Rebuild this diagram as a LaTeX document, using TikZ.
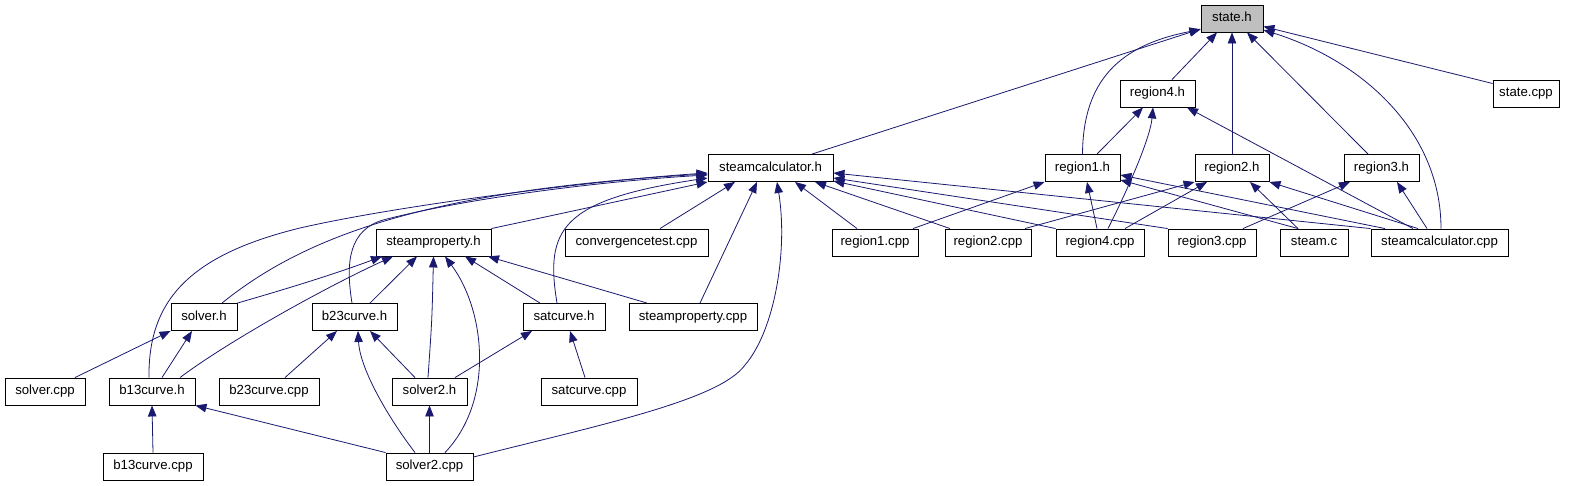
\documentclass[tikz,border=0pt]{standalone}
\usepackage{fontspec}
\setmainfont{Liberation Sans}
\usetikzlibrary{arrows.meta}
\definecolor{edgec}{HTML}{191970}
\definecolor{grayfill}{HTML}{BFBFBF}
\begin{document}
\begin{tikzpicture}[x=1pt,y=-1pt,
 box/.style={draw=black, line width=0.9pt, fill=white, inner sep=0pt, minimum height=27pt,
   text height=9.5pt, text depth=2.8pt, font=\fontsize{13.2}{15}\selectfont},
 dep/.style={draw=edgec, line width=0.8pt, -{Triangle[length=11pt,width=8.5pt]}}]
\useasboundingbox[fill=white] (0,0) rectangle (1573,485);
% row 0
\node[box, fill=grayfill, minimum width=62pt] (stateh) at (1232,18.5) {state.h};
% row 1
\node[box, minimum width=75pt] (region4h) at (1157.5,93.5) {region4.h};
\node[box, minimum width=66pt] (statecpp) at (1526,93.5) {state.cpp};
% row 2
\node[box, minimum width=125pt] (sch) at (770.5,168) {steamcalculator.h};
\node[box, minimum width=75pt] (region1h) at (1082.5,168) {region1.h};
\node[box, minimum width=74pt] (region2h) at (1232,168) {region2.h};
\node[box, minimum width=75pt] (region3h) at (1381.5,168) {region3.h};
% row 3
\node[box, minimum width=115pt] (steampropertyh) at (433.5,242.5) {steamproperty.h};
\node[box, minimum width=143pt] (convergencetestcpp) at (636.5,242.5) {convergencetest.cpp};
\node[box, minimum width=86pt] (region1cpp) at (875,242.5) {region1.cpp};
\node[box, minimum width=86pt] (region2cpp) at (988,242.5) {region2.cpp};
\node[box, minimum width=88pt] (region4cpp) at (1100,242.5) {region4.cpp};
\node[box, minimum width=88pt] (region3cpp) at (1212,242.5) {region3.cpp};
\node[box, minimum width=68pt] (steamc) at (1314,242.5) {steam.c};
\node[box, minimum width=137pt] (sccpp) at (1439.5,242.5) {steamcalculator.cpp};
% row 4
\node[box, minimum width=66pt] (solverh) at (204,317) {solver.h};
\node[box, minimum width=85pt] (b23curveh) at (354.5,317) {b23curve.h};
\node[box, minimum width=82pt] (satcurveh) at (564,317) {satcurve.h};
\node[box, minimum width=128pt] (steampropertycpp) at (693,317) {steamproperty.cpp};
% row 5
\node[box, minimum width=80pt] (solvercpp) at (45,391.5) {solver.cpp};
\node[box, minimum width=86pt] (b13curveh) at (152,391.5) {b13curve.h};
\node[box, minimum width=100pt] (b23curvecpp) at (269,391.5) {b23curve.cpp};
\node[box, minimum width=75pt] (solver2h) at (429.5,391.5) {solver2.h};
\node[box, minimum width=96pt] (satcurvecpp) at (589,391.5) {satcurve.cpp};
% row 6
\node[box, minimum width=100pt] (b13curvecpp) at (153,466.5) {b13curve.cpp};
\node[box, minimum width=87pt] (solver2cpp) at (429.5,466.5) {solver2.cpp};

% edges to state.h
\draw[dep] ([xshift=41.5pt]sch.north) -- ([yshift=-10.5pt]stateh.west);
\draw[dep] (region1h.north) .. controls (1083,80) and (1120,45) .. ([yshift=-11pt]stateh.west);
\draw[dep] ([xshift=14.5pt]region4h.north) -- ([xshift=-15pt]stateh.south);
\draw[dep] (region2h.north) -- (stateh.south);
\draw[dep] ([xshift=-13.5pt]region3h.north) -- ([xshift=15pt]stateh.south);
\draw[dep] ([xshift=1.5pt]sccpp.north) .. controls (1441,130) and (1360,60) .. ([yshift=-11.5pt]stateh.east);
\draw[dep] ([yshift=10pt]statecpp.west) -- ([yshift=-8pt]stateh.east);
% edges to region4.h
\draw[dep] ([xshift=14.5pt]region1h.north) -- ([xshift=-14.5pt]region4h.south);
\draw[dep] ([xshift=8pt]region4cpp.north) .. controls (1125,195) and (1150,140) .. ([xshift=-4.5pt]region4h.south);
\draw[dep] ([xshift=-26.5pt]sccpp.north) -- ([xshift=29.5pt]region4h.south);
% edges to region1.h
\draw[dep] ([xshift=38pt]region1cpp.north) -- (region1h.south west);
\draw[dep] ([xshift=-3pt]region4cpp.north) -- ([xshift=4.5pt]region1h.south);
\draw[dep] ([xshift=-16pt]steamc.north) -- ([yshift=-12pt]region1h.east);
\draw[dep] ([xshift=-54.5pt]sccpp.north) -- ([yshift=-7pt]region1h.east);
% edges to region2.h
\draw[dep] ([xshift=37pt]region2cpp.north) -- (region2h.south west);
\draw[dep] ([xshift=25pt]region4cpp.north) -- ([xshift=-25pt]region2h.south);
\draw[dep] ([xshift=-16pt]steamc.north) -- ([xshift=18pt]region2h.south);
\draw[dep] ([xshift=-21.5pt]sccpp.north) -- (region2h.south east);
% edges to region3.h
\draw[dep] ([xshift=31pt]region3cpp.north) -- ([xshift=-31.5pt]region3h.south);
\draw[dep] ([xshift=-12.5pt]sccpp.north) -- ([xshift=15.5pt]region3h.south);
% edges to steamcalculator.h
\draw[dep] (steampropertyh.north east) -- (sch.south west);
\draw[dep] ([xshift=-7pt]satcurveh.north) .. controls (545,230) and (560,200) .. ([yshift=-10pt]sch.west);
\draw[dep] ([xshift=18pt]solverh.north) .. controls (300,240) and (420,190) .. ([yshift=-6pt]sch.west);
\draw[dep] ([xshift=-3pt]b13curveh.north) .. controls (148,300) and (190,255) .. (300,228) .. controls (400,205) and (600,180) .. ([yshift=-5pt]sch.west);
\draw[dep] ([xshift=-2.5pt]b23curveh.north) .. controls (345,260) and (350,230) .. (383,220) .. controls (480,195) and (620,180) .. ([yshift=-7pt]sch.west);
\draw[dep] ([xshift=23.5pt]convergencetestcpp.north) -- ([xshift=-35.5pt]sch.south);
\draw[dep] ([xshift=7pt]steampropertycpp.north) -- ([xshift=-13.5pt]sch.south);
\draw[dep] ([yshift=9.5pt]solver2cpp.east) .. controls (600,425) and (720,400) .. (745,365) .. controls (775,330) and (788,250) .. ([xshift=6.5pt]sch.south);
\draw[dep] ([xshift=-18pt]region1cpp.north) -- ([xshift=24.5pt]sch.south);
\draw[dep] ([xshift=-38pt]region2cpp.north) -- ([xshift=44.5pt]sch.south);
\draw[dep] (region4cpp.north west) -- ([yshift=-13pt]sch.east);
\draw[dep] (region3cpp.north west) -- ([yshift=-10pt]sch.east);
\draw[dep] (sccpp.north west) -- ([yshift=-5pt]sch.east);
% edges to steamproperty.h
\draw[dep] (solverh.north east) .. controls (300,285) and (340,272) .. ([xshift=-51.5pt]steampropertyh.south);
\draw[dep] ([xshift=28pt]b13curveh.north) .. controls (230,340) and (330,285) .. ([xshift=-40.5pt]steampropertyh.south);
\draw[dep] ([xshift=15.5pt]b23curveh.north) -- ([xshift=-16.5pt]steampropertyh.south);
\draw[dep] ([xshift=-1.5pt]solver2h.north) .. controls (432,320) .. (steampropertyh.south);
\draw[dep] ([xshift=15.5pt]solver2cpp.north) .. controls (495,400) and (485,310) .. ([xshift=11.5pt]steampropertyh.south);
\draw[dep] ([xshift=-24pt]satcurveh.north) -- ([xshift=31.5pt]steampropertyh.south);
\draw[dep] ([xshift=-46pt]steampropertycpp.north) -- ([xshift=54.5pt]steampropertyh.south);
% edges to solver.h
\draw[dep] ([xshift=30pt]solvercpp.north) -- (solverh.south west);
\draw[dep] ([xshift=10pt]b13curveh.north) -- ([xshift=-12pt]solverh.south);
% edges to b23curve.h
\draw[dep] ([xshift=16pt]b23curvecpp.north) -- ([xshift=-17.5pt]b23curveh.south);
\draw[dep] ([xshift=-14.5pt]solver2h.north) -- ([xshift=15.5pt]b23curveh.south);
\draw[dep] ([xshift=-14.5pt]solver2cpp.north) .. controls (390,420) and (360,370) .. ([xshift=3.5pt]b23curveh.south);
% edges to satcurve.h
\draw[dep] ([xshift=25.5pt]solver2h.north) -- ([xshift=-32pt]satcurveh.south);
\draw[dep] ([xshift=-4pt]satcurvecpp.north) -- ([xshift=6pt]satcurveh.south);
% remaining
\draw[dep] (solver2cpp.north) -- (solver2h.south);
\draw[dep] (b13curvecpp.north) -- (b13curveh.south);
\draw[dep] (solver2cpp.north west) -- (b13curveh.south east);
\end{tikzpicture}
\end{document}
